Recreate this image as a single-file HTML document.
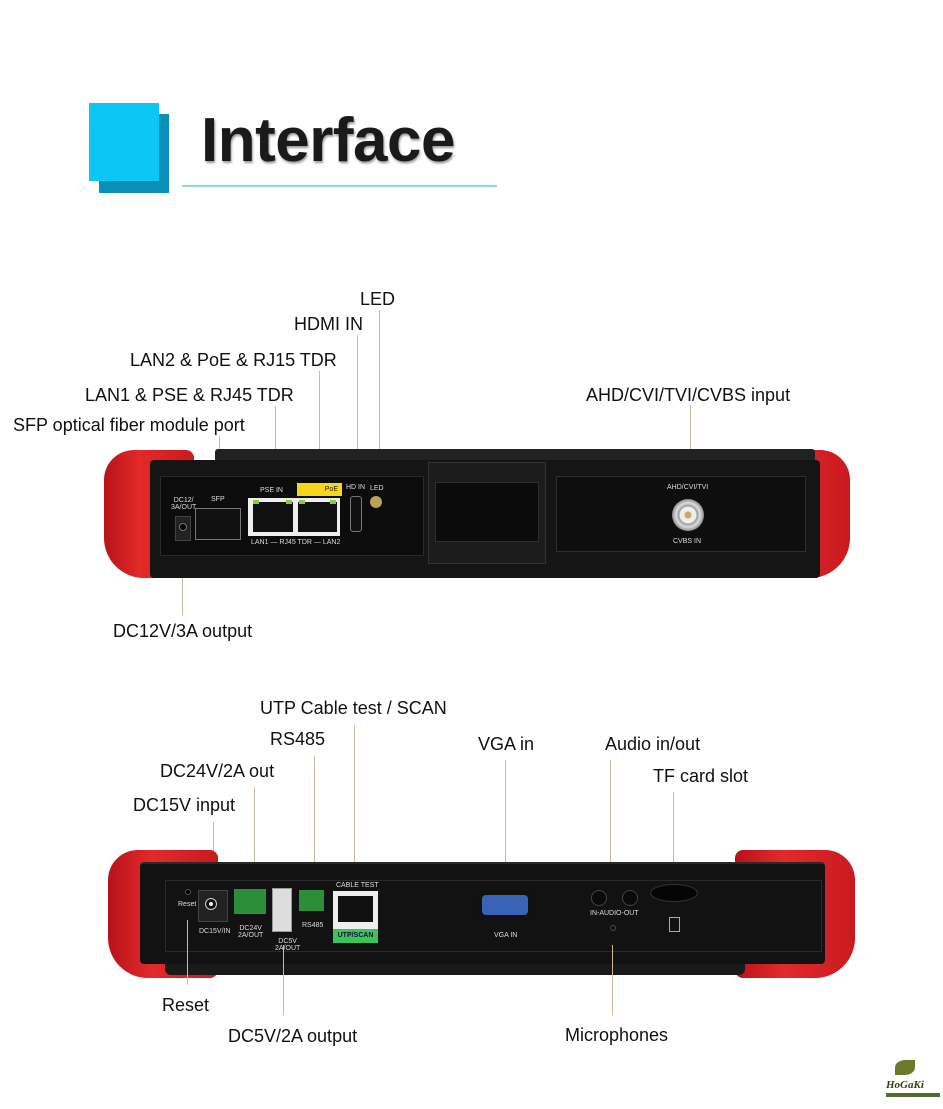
<!DOCTYPE html>
<html><head><meta charset="utf-8"><style>
body{margin:0;width:943px;height:1109px;background:#fff;position:relative;overflow:hidden;font-family:"Liberation Sans",sans-serif}
.a{position:absolute}
.t{position:absolute;font-size:18px;color:#111;white-space:nowrap;line-height:1}
.l{position:absolute;width:1px;background:#d0b89a}
.s{position:absolute;color:#ddd;font-size:7px;white-space:nowrap;line-height:1}
.red{position:absolute;background:linear-gradient(90deg,#b8121a,#e32a2a 40%,#c81a20);}
</style></head><body>
<!-- title -->
<div class="a" style="left:99px;top:114px;width:70px;height:79px;background:#0a8fb8"></div>
<div class="a" style="left:89px;top:103px;width:70px;height:78px;background:#0cc6f5"></div>
<div class="a" style="left:201px;top:110px;font-size:62px;font-weight:bold;color:#1a1a1a;line-height:1;letter-spacing:-0.5px;text-shadow:1px 2px 2px #999">Interface</div>
<div class="a" style="left:182px;top:185px;width:315px;height:2px;background:#8ed6e6"></div>

<!-- top labels -->
<div class="t" style="left:360px;top:290px">LED</div>
<div class="t" style="left:294px;top:315px">HDMI IN</div>
<div class="t" style="left:130px;top:351px">LAN2 &amp; PoE &amp; RJ15 TDR</div>
<div class="t" style="left:85px;top:386px">LAN1 &amp; PSE &amp; RJ45 TDR</div>
<div class="t" style="left:13px;top:416px">SFP optical fiber module port</div>
<div class="t" style="left:586px;top:386px">AHD/CVI/TVI/CVBS input</div>
<div class="t" style="left:113px;top:622px">DC12V/3A output</div>
<div class="l" style="left:379px;top:310px;height:165px"></div>
<div class="l" style="left:357px;top:335px;height:140px"></div>
<div class="l" style="left:319px;top:371px;height:104px"></div>
<div class="l" style="left:275px;top:406px;height:70px"></div>
<div class="l" style="left:219px;top:436px;height:40px"></div>
<div class="l" style="left:690px;top:405px;height:95px"></div>
<div class="l" style="left:182px;top:540px;height:75px"></div>

<!-- top device -->
<div class="red" style="left:104px;top:450px;width:90px;height:128px;border-radius:30px 8px 8px 40px"></div>
<div class="red" style="left:725px;top:450px;width:125px;height:128px;border-radius:8px 30px 40px 8px"></div>
<div class="a" style="left:215px;top:449px;width:600px;height:14px;background:#222;border-radius:3px"></div>
<div class="a" style="left:150px;top:460px;width:670px;height:118px;background:#151515;border-radius:4px"></div>
<div class="a" style="left:160px;top:476px;width:262px;height:78px;background:#0c0c0c;border:1px solid #2a2a2a"></div>
<div class="a" style="left:428px;top:462px;width:116px;height:100px;background:#1c1c1c;border:1px solid #333"></div>
<div class="a" style="left:435px;top:482px;width:102px;height:58px;background:#0b0b0b;border:1px solid #2e2e2e"></div>
<div class="a" style="left:556px;top:476px;width:248px;height:74px;background:#0e0e0e;border:1px solid #2e2e2e"></div>
<div class="s" style="left:171px;top:497px;text-align:center">DC12/<br>3A/OUT</div>
<div class="a" style="left:175px;top:516px;width:14px;height:23px;background:#222;border:1px solid #444"></div>
<div class="a" style="left:179px;top:523px;width:6px;height:6px;border-radius:50%;background:#000;border:1px solid #777"></div>
<div class="s" style="left:211px;top:496px">SFP</div>
<div class="a" style="left:195px;top:508px;width:44px;height:30px;background:#111;border:1px solid #777"></div>
<div class="s" style="left:260px;top:487px">PSE IN</div>
<div class="a" style="left:297px;top:483px;width:45px;height:13px;background:#f6d61c;font-size:7px;color:#222;line-height:13px;text-align:right;padding-right:4px;box-sizing:border-box">PoE</div>
<div class="a" style="left:248px;top:498px;width:92px;height:38px;background:#eee"></div>
<div class="a" style="left:253px;top:502px;width:40px;height:30px;background:#111"></div>
<div class="a" style="left:298px;top:502px;width:39px;height:30px;background:#111"></div>
<div class="a" style="left:253px;top:500px;width:6px;height:4px;background:#8c4"></div>
<div class="a" style="left:286px;top:500px;width:6px;height:4px;background:#8c4"></div>
<div class="a" style="left:299px;top:500px;width:6px;height:4px;background:#8c4"></div>
<div class="a" style="left:330px;top:500px;width:6px;height:4px;background:#8c4"></div>
<div class="s" style="left:251px;top:539px">LAN1 — RJ45 TDR — LAN2</div>
<div class="s" style="left:346px;top:484px">HD IN</div>
<div class="a" style="left:350px;top:496px;width:10px;height:34px;background:#111;border:1px solid #777;border-radius:3px"></div>
<div class="s" style="left:370px;top:485px">LED</div>
<div class="a" style="left:370px;top:496px;width:12px;height:12px;border-radius:50%;background:#b9a35a"></div>
<div class="s" style="left:667px;top:484px">AHD/CVI/TVI</div>
<div class="a" style="left:672px;top:499px;width:32px;height:32px;border-radius:50%;background:radial-gradient(circle,#c8a86a 0 3px,#eee 4px 8px,#999 9px,#ddd 12px,#888 16px)"></div>
<div class="s" style="left:673px;top:538px">CVBS IN</div>

<!-- bottom labels -->
<div class="t" style="left:260px;top:699px">UTP Cable test / SCAN</div>
<div class="t" style="left:270px;top:730px">RS485</div>
<div class="t" style="left:160px;top:762px">DC24V/2A out</div>
<div class="t" style="left:133px;top:796px">DC15V input</div>
<div class="t" style="left:478px;top:735px">VGA in</div>
<div class="t" style="left:605px;top:735px">Audio in/out</div>
<div class="t" style="left:653px;top:767px">TF card slot</div>
<div class="t" style="left:162px;top:996px">Reset</div>
<div class="t" style="left:228px;top:1027px">DC5V/2A output</div>
<div class="t" style="left:565px;top:1026px">Microphones</div>
<div class="l" style="left:354px;top:725px;height:155px"></div>
<div class="l" style="left:314px;top:756px;height:120px"></div>
<div class="l" style="left:254px;top:787px;height:88px"></div>
<div class="l" style="left:213px;top:822px;height:55px"></div>
<div class="l" style="left:505px;top:760px;height:115px"></div>
<div class="l" style="left:610px;top:760px;height:115px"></div>
<div class="l" style="left:673px;top:792px;height:83px"></div>
<div class="l" style="left:187px;top:920px;height:65px"></div>
<div class="l" style="left:283px;top:945px;height:70px"></div>
<div class="l" style="left:612px;top:945px;height:70px"></div>

<!-- bottom device -->
<div class="red" style="left:108px;top:850px;width:110px;height:128px;border-radius:30px 8px 8px 40px"></div>
<div class="red" style="left:735px;top:850px;width:120px;height:128px;border-radius:8px 30px 40px 8px"></div>
<div class="a" style="left:165px;top:950px;width:580px;height:25px;background:#1a1a1a;border-radius:0 0 6px 6px"></div>
<div class="a" style="left:140px;top:862px;width:685px;height:100px;background:#121212;border-radius:4px;border-top:2px solid #2a2a2a"></div>
<div class="a" style="left:165px;top:880px;width:655px;height:70px;border:1px solid #2a2a2a"></div>
<div class="l" style="left:187px;top:920px;height:65px"></div>
<div class="l" style="left:283px;top:945px;height:70px"></div>
<div class="l" style="left:612px;top:945px;height:70px"></div>
<div class="a" style="left:185px;top:889px;width:4px;height:4px;border-radius:50%;background:#000;border:1px solid #555"></div>
<div class="s" style="left:178px;top:901px">Reset</div>
<div class="a" style="left:198px;top:890px;width:28px;height:30px;background:#222;border:1px solid #444"></div>
<div class="a" style="left:206px;top:899px;width:10px;height:10px;border-radius:50%;background:#eee;box-shadow:inset 0 0 0 3px #111,0 0 0 1px #ccc"></div>
<div class="s" style="left:199px;top:928px">DC15V/IN</div>
<div class="a" style="left:234px;top:889px;width:32px;height:25px;background:#2b8f3a"></div>
<div class="s" style="left:238px;top:925px;text-align:center">DC24V<br>2A/OUT</div>
<div class="a" style="left:272px;top:888px;width:18px;height:42px;background:#ddd;border:1px solid #999"></div>
<div class="s" style="left:275px;top:938px;text-align:center">DC5V<br>2A/OUT</div>
<div class="a" style="left:299px;top:890px;width:25px;height:21px;background:#2b8f3a"></div>
<div class="s" style="left:302px;top:922px">RS485</div>
<div class="s" style="left:336px;top:882px">CABLE TEST</div>
<div class="a" style="left:333px;top:891px;width:45px;height:38px;background:#eee"></div>
<div class="a" style="left:338px;top:896px;width:35px;height:26px;background:#111"></div>
<div class="a" style="left:333px;top:929px;width:45px;height:14px;background:#3bc45a;font-size:7px;color:#113;font-weight:bold;line-height:14px;text-align:center">UTP/SCAN</div>
<div class="a" style="left:476px;top:890px;width:58px;height:30px;background:#111;border-radius:6px"></div>
<div class="a" style="left:482px;top:895px;width:46px;height:20px;background:#3a63b8;border-radius:4px"></div>
<div class="s" style="left:494px;top:932px">VGA IN</div>
<div class="a" style="left:591px;top:890px;width:14px;height:14px;border-radius:50%;background:#0a0a0a;border:1px solid #444"></div>
<div class="a" style="left:622px;top:890px;width:14px;height:14px;border-radius:50%;background:#0a0a0a;border:1px solid #444"></div>
<div class="s" style="left:590px;top:910px">IN-AUDIO-OUT</div>
<div class="a" style="left:610px;top:925px;width:4px;height:4px;border-radius:50%;background:#000;border:1px solid #555"></div>
<div class="a" style="left:650px;top:884px;width:46px;height:16px;border-radius:50%;background:#050505;border:1px solid #333"></div>
<div class="a" style="left:669px;top:917px;width:9px;height:13px;border:1px solid #aaa"></div>

<!-- logo -->
<div class="a" style="left:895px;top:1060px;width:20px;height:15px;background:#6b7a2a;border-radius:50% 0"></div>
<div class="a" style="left:886px;top:1079px;font-size:11px;font-weight:bold;font-style:italic;color:#3a3a10;font-family:'Liberation Serif',serif">HoGaKi</div>
<div class="a" style="left:886px;top:1093px;width:54px;height:4px;background:#556b2f"></div>
</body></html>
